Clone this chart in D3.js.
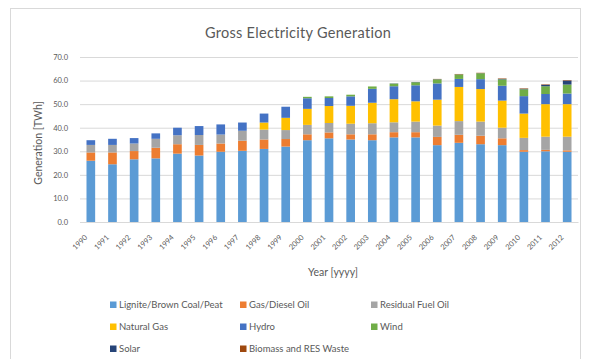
<!DOCTYPE html>
<html><head><meta charset="utf-8">
<script src="https://cdn.jsdelivr.net/npm/d3@7"></script>
<style>
html,body{margin:0;padding:0;background:#fff;}
svg{display:block;}
text{font-family:Lato,"Open Sans",sans-serif;fill:#595959;}
</style></head><body>
<svg id="chart" width="589" height="359"></svg>
<script>
const years = ["1990","1991","1992","1993","1994","1995","1996","1997","1998","1999","2000","2001","2002","2003","2004","2005","2006","2007","2008","2009","2010","2011","2012"];
const seriesNames = ["Lignite/Brown Coal/Peat","Gas/Diesel Oil","Residual Fuel Oil","Natural Gas","Hydro","Wind","Solar","Biomass and RES Waste"];
const seriesColors = ["#5B9BD5","#ED7D31","#A5A5A5","#FFC000","#4472C4","#70AD47","#264478","#9E480E"];
const lignite   = [26.0,24.5,26.6,27.0,29.0,28.2,29.8,30.2,31.0,32.0,34.7,35.5,35.0,34.7,35.9,35.9,32.6,33.6,33.0,32.6,29.8,30.0,29.8];
const gasDiesel = [3.5,5.0,3.5,4.5,4.0,4.5,3.5,4.3,4.0,3.2,2.5,2.5,2.2,2.5,2.2,2.2,3.5,3.4,3.6,2.9,0.7,0.6,0.6];
const residual  = [3.2,3.2,3.2,3.8,3.8,4.2,3.8,4.2,4.2,3.8,4.0,4.0,4.5,4.7,4.2,4.5,4.8,5.8,6.0,4.5,5.2,5.6,5.8];
const natGas    = [0,0,0,0,0,0,0,0,3.0,5.2,6.8,7.2,7.6,8.7,9.8,8.6,11.0,14.5,13.8,11.5,10.3,13.8,13.8];
const hydro     = [2.0,2.6,2.3,2.3,3.2,3.8,4.3,3.5,3.8,4.7,4.5,3.4,4.0,5.9,5.5,6.8,6.9,3.4,4.2,6.3,7.4,4.3,4.5];
const wind      = [0,0,0,0,0,0,0,0,0,0,0.6,0.7,0.7,1.0,1.1,1.3,1.7,1.9,2.5,2.7,2.9,3.3,3.8];
const solar     = [0,0,0,0,0,0,0,0,0,0,0,0,0,0,0.1,0.1,0.1,0.05,0.05,0.2,0.2,0.6,1.7];
const biomass   = [0,0,0,0,0,0,0,0,0,0,0,0,0,0,0,0,0.1,0.15,0.15,0.2,0.2,0.2,0.2];
const yTicks = [0,10,20,30,40,50,60,70];
const title = "Gross Electricity Generation";
const yTitle = "Generation [TWh]";
const xTitle = "Year [yyyy]";

const seriesValues = [lignite,gasDiesel,residual,natGas,hydro,wind,solar,biomass];
const table = years.map((y,i)=>{const o={year:y}; seriesNames.forEach((n,k)=>o[n]=seriesValues[k][i]); return o;});
const stacked = d3.stack().keys(seriesNames)(table);

const svg = d3.select("#chart");
const m = {left:80, right:578, top:57, bottom:222};
const x = d3.scaleBand().domain(years).range([m.left,m.right]).paddingInner(0.6).paddingOuter(0.3);
const y = d3.scaleLinear().domain([0,70]).range([m.bottom,m.top]);

// chart frame
svg.append("rect").attr("x",10.5).attr("y",8.5).attr("width",570).attr("height",400)
  .attr("fill","none").attr("stroke","#d9d9d9");

svg.append("text").attr("x",298).attr("y",38).attr("text-anchor","middle")
  .attr("font-size",14.5).attr("letter-spacing",0.3).attr("fill","#6b6b6b").text(title);

// grid + y axis
const yAxis = d3.axisLeft(y).tickValues(yTicks).tickFormat(d3.format(".1f")).tickSize(-(m.right-m.left)).tickPadding(12);
const gy = svg.append("g").attr("transform",`translate(${m.left},0)`).call(yAxis);
gy.select(".domain").remove();
gy.selectAll(".tick line").attr("stroke","#d9d9d9");
gy.selectAll(".tick text").attr("font-size",7.5).attr("fill","#595959").style("font-family","Lato,sans-serif");

// bars
svg.append("g").selectAll("g").data(stacked).join("g")
  .attr("fill",(d,i)=>seriesColors[i])
  .selectAll("rect").data(d=>d).join("rect")
  .attr("x",d=>x(d.data.year)).attr("width",x.bandwidth())
  .attr("y",d=>y(d[1])).attr("height",d=>Math.max(0,y(d[0])-y(d[1])));

// x axis
const xAxis = d3.axisBottom(x).tickSize(0).tickPadding(0);
const gx = svg.append("g").attr("transform",`translate(0,${m.bottom})`).call(xAxis);
gx.select(".domain").attr("stroke","#d9d9d9");
gx.selectAll(".tick text").attr("font-size",7.5).attr("fill","#595959").style("font-family","Lato,sans-serif")
  .attr("text-anchor","end").attr("dy",0)
  .attr("transform","translate(-3,16) rotate(-45)");

svg.append("text").attr("x",333).attr("y",276).attr("text-anchor","middle").attr("font-size",10.5)
  .text(xTitle);
svg.append("text").attr("transform","translate(42,143) rotate(-90)").attr("text-anchor","middle").attr("font-size",10.5)
  .text(yTitle);

// legend
const legCols=[113,243,374], legRows=[305,327,349];
const lg = svg.append("g").selectAll("g").data(seriesNames).join("g")
  .attr("transform",(d,i)=>`translate(${legCols[i%3]},${legRows[Math.floor(i/3)]})`);
lg.append("rect").attr("x",-3).attr("y",-3.5).attr("width",6.5).attr("height",6.5).attr("fill",(d,i)=>seriesColors[i]);
lg.append("text").attr("x",6).attr("y",3).attr("font-size",9.5).text(d=>d);
</script>
</body></html>
